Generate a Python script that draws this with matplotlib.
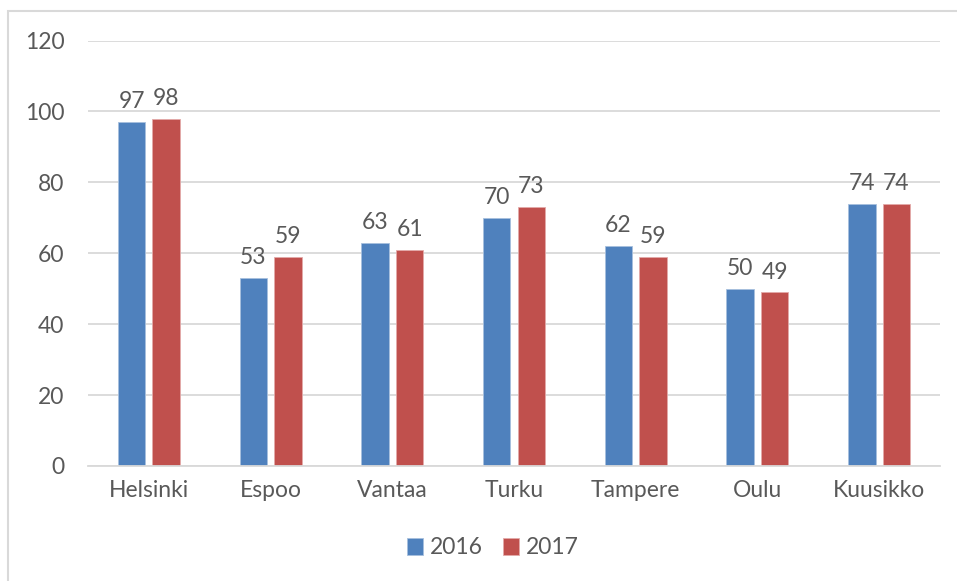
import matplotlib
matplotlib.use("Agg")
import matplotlib.pyplot as plt
import numpy as np
from matplotlib.patches import Rectangle

categories = ["Helsinki", "Espoo", "Vantaa", "Turku", "Tampere", "Oulu", "Kuusikko"]
series_names = ["2016", "2017"]
values_2016 = [97, 53, 63, 70, 62, 50, 74]
values_2017 = [98, 59, 61, 73, 59, 49, 74]
yticks = [0, 20, 40, 60, 80, 100, 120]

plt.rcParams['font.family'] = ['Lato', 'DejaVu Sans']
txt = '#595959'
c16 = '#4F81BD'
c17 = '#C0504D'
fs = 16.5

fig = plt.figure(figsize=(9.57, 5.81), dpi=100)
W, H = 957, 581
ax = fig.add_axes([88 / W, 1 - 466 / H, (940 - 88) / W, (466 - 40.5) / H])

x = np.arange(len(categories))
bw = 0.225
off = 0.142
b1 = ax.bar(x - off, values_2016, bw, color=c16, edgecolor='#A7C0DE', linewidth=0.6, label=series_names[0], zorder=3)
b2 = ax.bar(x + off, values_2017, bw, color=c17, edgecolor='#E3AAA9', linewidth=0.6, label=series_names[1], zorder=3)

for bars, vals in ((b1, values_2016), (b2, values_2017)):
    for r, v in zip(bars, vals):
        ax.annotate(str(v), (r.get_x() + r.get_width() / 2, v), xytext=(0, 7),
                    textcoords='offset points', ha='center', va='bottom',
                    fontsize=fs, color=txt)

ax.set_xlim(-0.5, len(categories) - 0.5)
ax.set_ylim(0, 120)
ax.set_yticks(yticks)
ax.set_yticklabels([str(t) for t in yticks])
ax.set_xticks(x)
ax.set_xticklabels(categories)
ax.tick_params(axis='both', length=0, labelsize=fs, labelcolor=txt)
ax.tick_params(axis='y', pad=17)
ax.tick_params(axis='x', pad=10)
ax.grid(axis='y', color='#D9D9D9', linewidth=1.3, zorder=0)
for s in ['top', 'right', 'left']:
    ax.spines[s].set_visible(False)
ax.spines['bottom'].set_color('#D9D9D9')
ax.spines['bottom'].set_linewidth(1.3)
ax.spines['bottom'].set_zorder(4)

leg = fig.legend(loc='center', bbox_to_anchor=(493 / W, 1 - 548 / H), ncol=2, frameon=False,
                 fontsize=fs, handlelength=0.7, handleheight=0.7, handletextpad=0.3,
                 columnspacing=0.9, labelcolor=txt)

fig.patches.append(Rectangle((8 / W, -0.1), 1.2, 1 - 11 / H + 0.1, transform=fig.transFigure,
                             fill=False, edgecolor='#D9D9D9', linewidth=1.5))

fig.savefig("out.png", dpi=100)
